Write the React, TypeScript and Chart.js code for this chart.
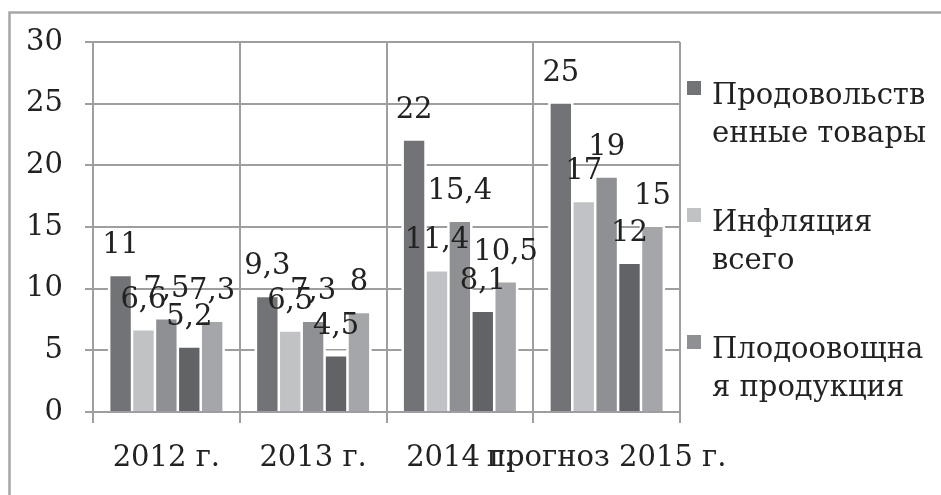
import React, { useEffect, useRef } from 'react';
import { Chart, registerables } from 'chart.js';

Chart.register(...registerables);

const categories = ['2012 г.', '2013 г.', '2014 г.', 'прогноз 2015 г.'];
const seriesNames = [
  'Продовольственные товары',
  'Инфляция всего',
  'Плодоовощная продукция',
  'Непродовольственные товары',
  'Платные услуги',
];
const foodGoods = [11, 9.3, 22, 25];
const inflationTotal = [6.6, 6.5, 11.4, 17];
const fruitVeg = [7.5, 7.3, 15.4, 19];
const nonFood = [5.2, 4.5, 8.1, 12];
const services = [7.3, 8, 10.5, 15];
const seriesValues = [foodGoods, inflationTotal, fruitVeg, nonFood, services];
const yMin = 0;
const yMax = 30;
const yStep = 5;
const legendLines = [
  ['Продовольств', 'енные товары'],
  ['Инфляция', 'всего'],
  ['Плодоовощна', 'я продукция'],
];

const colors = ['#727377', '#c1c2c5', '#8f9094', '#626367', '#a5a6a9'];
const FONT_FAMILY = "'DejaVu Serif', serif";
const FONT_SIZE = 29;
const TEXT_COLOR = '#222222';
const GRID_COLOR = '#9e9e9e';

const framePlugin = {
  id: 'frame',
  beforeDraw(chart: any) {
    const ctx = chart.ctx;
    ctx.save();
    ctx.fillStyle = '#ffffff';
    ctx.fillRect(0, 0, chart.width, chart.height);
    ctx.strokeStyle = '#a6a6a6';
    ctx.lineWidth = 2.5;
    ctx.strokeRect(9.5, 12.5, chart.width + 20, chart.height + 20);
    ctx.restore();
  },
};

const glowPlugin = {
  id: 'glow',
  beforeDatasetsDraw(chart: any) {
    const ctx = chart.ctx;
    ctx.save();
    ctx.fillStyle = '#ffffff';
    chart.data.datasets.forEach((_: any, i: number) => {
      const meta = chart.getDatasetMeta(i);
      meta.data.forEach((bar: any) => {
        const w = bar.width;
        ctx.fillRect(bar.x - w / 2 - 2.5, bar.y - 6, w + 5, bar.base - bar.y + 5);
      });
    });
    ctx.restore();
  },
};

const labelPlugin = {
  id: 'valueLabels',
  afterDatasetsDraw(chart: any) {
    const ctx = chart.ctx;
    ctx.save();
    ctx.font = `${FONT_SIZE}px ${FONT_FAMILY}`;
    ctx.fillStyle = TEXT_COLOR;
    ctx.textAlign = 'center';
    ctx.textBaseline = 'alphabetic';
    chart.data.datasets.forEach((ds: any, i: number) => {
      const meta = chart.getDatasetMeta(i);
      meta.data.forEach((bar: any, j: number) => {
        const text = String(ds.data[j]).replace('.', ',');
        ctx.fillText(text, bar.x, bar.y - 23);
      });
    });
    ctx.restore();
  },
};

const legendPlugin = {
  id: 'customLegend',
  afterDraw(chart: any) {
    const ctx = chart.ctx;
    ctx.save();
    ctx.font = `${FONT_SIZE}px ${FONT_FAMILY}`;
    ctx.textAlign = 'left';
    ctx.textBaseline = 'alphabetic';
    const x0 = chart.chartArea.right + 7;
    legendLines.forEach((lines, i) => {
      const base = 104 + i * 127;
      ctx.fillStyle = colors[i];
      ctx.fillRect(x0, base - 23, 14, 14);
      ctx.fillStyle = TEXT_COLOR;
      lines.forEach((line, k) => {
        ctx.fillText(line, x0 + 25, base + k * 38);
      });
    });
    ctx.restore();
  },
};

export default function App() {
  const canvasRef = useRef<HTMLCanvasElement | null>(null);

  useEffect(() => {
    if (!canvasRef.current) return;
    const font = { family: FONT_FAMILY, size: FONT_SIZE };
    const chart = new Chart(canvasRef.current, {
      type: 'bar',
      data: {
        labels: categories,
        datasets: seriesValues.map((vals, i) => ({
          label: seriesNames[i],
          data: vals,
          backgroundColor: colors[i],
          borderWidth: 0,
          barPercentage: 0.89,
          categoryPercentage: 0.78,
        })),
      },
      options: {
        responsive: false,
        animation: false,
        devicePixelRatio: 1,
        layout: { padding: { top: 42, right: 261, left: 0, bottom: 0 } },
        plugins: {
          legend: { display: false },
          tooltip: { enabled: false },
          title: { display: false },
        },
        scales: {
          x: {
            type: 'category',
            grid: {
              offset: true,
              color: GRID_COLOR,
              lineWidth: 2,
              drawTicks: true,
              tickLength: 11,
            },
            border: { color: GRID_COLOR, width: 2 },
            ticks: {
              autoSkip: false,
              maxRotation: 0,
              minRotation: 0,
              font,
              color: TEXT_COLOR,
              padding: 18,
            },
            afterFit: (s: any) => {
              s.height = 83;
            },
          },
          y: {
            min: yMin,
            max: yMax,
            grid: {
              color: GRID_COLOR,
              lineWidth: 2,
              drawTicks: true,
              tickLength: 8,
            },
            border: { color: GRID_COLOR, width: 2 },
            ticks: {
              stepSize: yStep,
              font,
              color: TEXT_COLOR,
              padding: 22,
            },
            afterFit: (s: any) => {
              s.width = 93;
            },
          },
        },
      },
      plugins: [framePlugin, glowPlugin, labelPlugin, legendPlugin],
    });
    return () => chart.destroy();
  }, []);

  return (
    <div style={{ position: 'fixed', left: 0, top: 0, width: 941, height: 495, background: '#fff' }}>
      <canvas ref={canvasRef} width={941} height={495} style={{ display: 'block' }} />
    </div>
  );
}
